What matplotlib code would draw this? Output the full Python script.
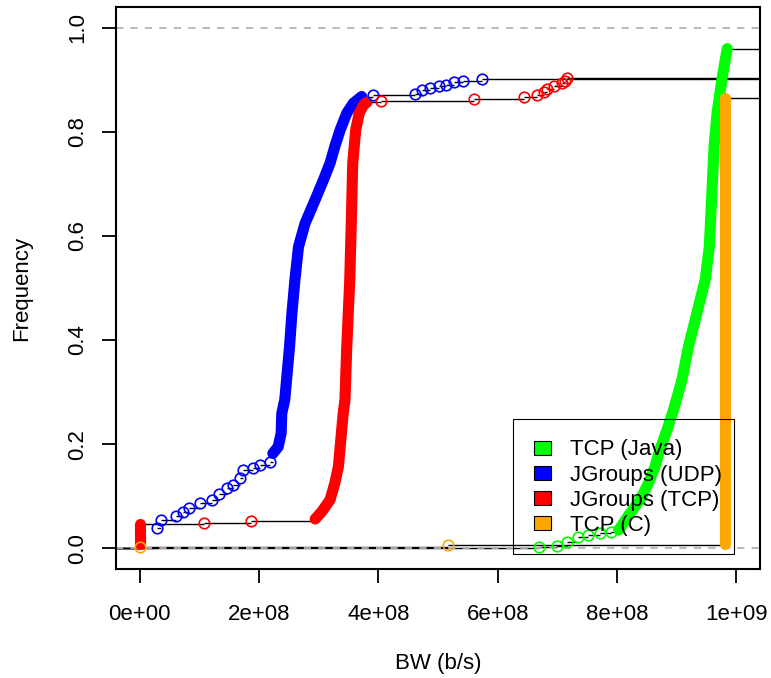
import matplotlib
matplotlib.use('Agg')
import matplotlib.pyplot as plt
from matplotlib.patches import Patch, Rectangle
import numpy as np

plt.rcParams['font.family'] = ['Liberation Sans', 'DejaVu Sans']

# ---------------- data (BW in units of 1e8 b/s, frequency 0..1) ----------------
series_labels = ['TCP (Java)', 'JGroups (UDP)', 'JGroups (TCP)', 'TCP (C)']
series_colors = ['#00FF00', '#0000FF', '#FF0000', '#FFA500']

# TCP (Java)
java_pts_bw = [6.70, 7.00, 7.16, 7.35, 7.52, 7.72, 7.90]
java_pts_f = [0.002, 0.005, 0.012, 0.021, 0.025, 0.029, 0.031]
java_band_bw = [8.03, 8.11, 8.22, 8.39, 8.53, 8.64, 8.72, 8.84, 8.95, 9.09, 9.20,
                9.34, 9.48, 9.55, 9.59, 9.63, 9.68, 9.76, 9.85]
java_band_f = [0.035, 0.048, 0.067, 0.093, 0.125, 0.157, 0.189, 0.227, 0.266, 0.323,
               0.387, 0.451, 0.515, 0.579, 0.675, 0.772, 0.836, 0.900, 0.960]

# JGroups (UDP)
udp_pts_bw = [0.28, 0.36, 0.61, 0.72, 0.83, 1.01, 1.21, 1.32, 1.46, 1.57, 1.68,
              1.73, 1.90, 2.01, 2.18,
              3.91, 4.62, 4.73, 4.87, 5.01, 5.13, 5.27, 5.42, 5.73]
udp_pts_f = [0.039, 0.054, 0.061, 0.070, 0.077, 0.086, 0.093, 0.105, 0.115, 0.121, 0.134,
             0.150, 0.154, 0.160, 0.166,
             0.870, 0.873, 0.880, 0.885, 0.888, 0.891, 0.895, 0.898, 0.901]
udp_band_bw = [2.23, 2.32, 2.37, 2.38, 2.43, 2.46, 2.51, 2.55, 2.60, 2.66, 2.77, 2.96,
               3.08, 3.19, 3.27, 3.36, 3.47, 3.58, 3.72]
udp_band_f = [0.182, 0.195, 0.221, 0.259, 0.285, 0.323, 0.387, 0.451, 0.515, 0.579,
              0.624, 0.675, 0.708, 0.740, 0.772, 0.804, 0.836, 0.855, 0.868]

# JGroups (TCP)
jtcp_pts_bw = [1.07, 1.87,
               4.05, 5.61, 6.44, 6.66, 6.77, 6.82, 6.94, 7.08, 7.13, 7.16]
jtcp_pts_f = [0.049, 0.052,
              0.860, 0.864, 0.868, 0.871, 0.877, 0.883, 0.889, 0.893, 0.898, 0.903]
jtcp_zero_bw = [0.0, 0.0]
jtcp_zero_f = [0.009, 0.046]
jtcp_band_bw = [2.94, 3.05, 3.19, 3.27, 3.33, 3.38, 3.41, 3.44, 3.47, 3.52, 3.55,
                3.57, 3.62, 3.68, 3.75, 3.81]
jtcp_band_f = [0.056, 0.070, 0.093, 0.125, 0.157, 0.221, 0.259, 0.285, 0.387, 0.515,
               0.644, 0.740, 0.804, 0.836, 0.852, 0.857]

# TCP (C)
ctcp_pts_bw = [0.0, 5.17]
ctcp_pts_f = [0.003, 0.006]
ctcp_band_bw = [9.82, 9.82]
ctcp_band_f = [0.009, 0.865]

x_ticks = [0, 2, 4, 6, 8, 10]
x_tick_labels = ['0e+00', '2e+08', '4e+08', '6e+08', '8e+08', '1e+09']
y_ticks = [0.0, 0.2, 0.4, 0.6, 0.8, 1.0]
y_tick_labels = ['0.0', '0.2', '0.4', '0.6', '0.8', '1.0']
SCALE = 1e8

# ---------------- figure ----------------
W, H = 771, 678
fig = plt.figure(figsize=(W / 100, H / 100), dpi=100)
ax = fig.add_axes([116 / W, 1 - 569 / H, (760 - 116) / W, (569 - 7) / H])
xmin, xmax = -0.04e9, 1.04e9
ax.set_xlim(xmin, xmax)
ax.set_ylim(-0.04, 1.04)

series = [
    (java_pts_bw, java_pts_f, [(java_band_bw, java_band_f)]),
    (udp_pts_bw, udp_pts_f, [(udp_band_bw, udp_band_f)]),
    (jtcp_pts_bw, jtcp_pts_f, [(jtcp_zero_bw, jtcp_zero_f), (jtcp_band_bw, jtcp_band_f)]),
    (ctcp_pts_bw, ctcp_pts_f, [(ctcp_band_bw, ctcp_band_f)]),
]

MS = 7.6       # circle size (pt)
BAND_LW = 8.0  # dense-cluster band width (pt)

# reference lines at 0 and 1 (drawn over the step lines)
for yv in (0.0, 1.0):
    ax.axhline(yv, color='#b3b3b3', lw=1.3, ls=(0, (4, 4)), zorder=2)

for (pbw, pf, bands), col in zip(series, series_colors):
    allbw = list(pbw)
    allf = list(pf)
    grp = [-1] * len(pbw)
    for gi, (bbw, bf) in enumerate(bands):
        allbw += list(bbw)
        allf += list(bf)
        grp += [gi] * len(bbw)
    order = np.lexsort((np.array(allf), np.array(allbw)))
    sbw = np.array(allbw)[order] * SCALE
    sf = np.array(allf)[order]
    sg = np.array(grp)[order]
    # ECDF horizontal steps (inside a dense cluster the steps are hidden)
    ax.hlines([0.0], xmin, sbw[0], colors='black', lw=1.0, zorder=1)
    ends = np.append(sbw[1:], xmax)
    nxt = np.append(sg[1:], -2)
    keep = ~((sg >= 0) & (nxt == sg))
    ax.hlines(sf[keep], sbw[keep], ends[keep], colors='black', lw=1.0, zorder=1)

for (pbw, pf, bands), col in zip(series, series_colors):
    for bbw, bf in bands:
        ax.plot(np.array(bbw) * SCALE, bf, color=col, lw=BAND_LW,
                solid_capstyle='round', solid_joinstyle='round', zorder=3)
    ax.plot(np.array(pbw) * SCALE, pf, ls='none', marker='o', ms=MS,
            mfc='none', mec=col, mew=1.2, zorder=4)

ax.set_xticks([t * SCALE for t in x_ticks])
ax.set_xticklabels(x_tick_labels)
ax.set_yticks(y_ticks)
ax.set_yticklabels(y_tick_labels, rotation=90, va='center')
ax.tick_params(axis='both', direction='out', length=10, width=1.3, labelsize=16,
               color='black')
ax.tick_params(axis='x', pad=15)
ax.tick_params(axis='y', pad=10)
for s in ax.spines.values():
    s.set_linewidth(1.5)

ax.set_xlabel('BW (b/s)', fontsize=16)
ax.xaxis.set_label_coords(0.5, -(663 - 569) / 562)
ax.xaxis.label.set_va('center')
ax.set_ylabel('Frequency', fontsize=16)
ax.yaxis.set_label_coords(-(116 - 22) / 644, 0.5)
ax.yaxis.label.set_va('center')

# legend: entries without frame, plus a plain box around them
handles = [Patch(facecolor=c, edgecolor='black', lw=0.8) for c in series_colors]
leg = ax.legend(handles, series_labels, loc='upper left',
                bbox_to_anchor=(533.5 / W, 1 - 439.5 / H), bbox_transform=fig.transFigure,
                borderaxespad=0, fontsize=16, frameon=False,
                handlelength=0.8, handleheight=0.6, handletextpad=0.85,
                labelspacing=0.19, borderpad=0.0)
frame = Rectangle((513 / W, 1 - 554 / H), (734 - 513) / W, (554 - 419) / H,
                  transform=fig.transFigure, fill=False, edgecolor='black',
                  lw=0.8, zorder=5)
fig.add_artist(frame)

fig.savefig('out.png', dpi=100)
